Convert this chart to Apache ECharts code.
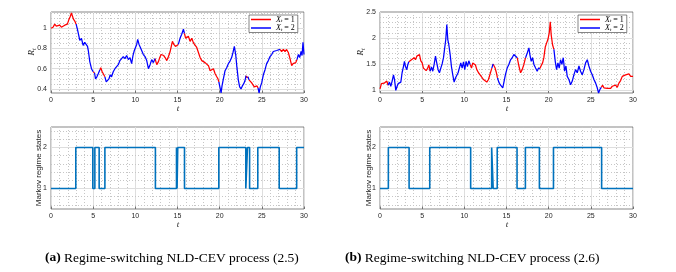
<!DOCTYPE html>
<html><head><meta charset="utf-8">
<script src="https://cdn.jsdelivr.net/npm/echarts@6/dist/echarts.min.js"></script>
<style>html,body{margin:0;padding:0;background:#fff}#c{width:676px;height:272px}</style>
</head><body><div id="c"></div>
<script>
// ---------- data ----------
const tA = [0,0.24,0.44,0.63,0.83,1.03,1.23,1.43,1.63,1.83,1.94,2.1,2.26,2.42,2.54,2.66,2.82,2.98,3.13,3.29,3.41,3.61,3.81,4.0,4.2,4.33,4.44,4.6,4.8,5.0,5.16,5.28,5.44,5.6,5.8,5.9,6.07,6.23,6.39,6.55,6.7,6.87,7.02,7.18,7.38,7.58,7.78,7.98,8.17,8.37,8.57,8.77,8.97,9.17,9.37,9.56,9.72,9.88,10.04,10.16,10.28,10.44,10.6,10.75,10.95,11.15,11.35,11.55,11.75,11.94,12.14,12.34,12.54,12.74,12.9,13.06,13.21,13.37,13.53,13.73,13.93,14.13,14.29,14.4,14.56,14.76,14.9,15.1,15.3,15.5,15.7,15.82,15.97,16.13,16.29,16.49,16.69,16.89,17.08,17.28,17.48,17.68,17.88,18.08,18.27,18.47,18.67,18.87,19.06,19.26,19.46,19.66,19.8,19.9,20.05,20.17,20.28,20.44,20.64,20.83,21.03,21.23,21.42,21.58,21.74,21.9,22.05,22.21,22.37,22.53,22.69,22.84,23.0,23.12,23.24,23.36,23.48,23.64,23.8,23.95,24.11,24.27,24.43,24.55,24.67,24.82,24.98,25.18,25.38,25.57,25.77,25.97,26.17,26.36,26.56,26.76,26.96,27.15,27.35,27.55,27.75,27.94,28.14,28.34,28.54,28.7,28.86,29.02,29.17,29.33,29.49,29.65,29.77,29.88,30.0];
const vA = [1.0,1.01,1.04,1.02,1.01,1.03,1.01,1.0,1.03,1.02,1.04,1.08,1.11,1.15,1.12,1.09,1.07,1.04,0.99,0.93,0.88,0.9,0.83,0.86,0.85,0.82,0.77,0.67,0.6,0.57,0.56,0.5,0.52,0.55,0.59,0.61,0.57,0.56,0.52,0.47,0.46,0.5,0.54,0.52,0.57,0.6,0.61,0.64,0.68,0.7,0.72,0.7,0.73,0.69,0.71,0.65,0.73,0.78,0.77,0.84,0.89,0.84,0.81,0.78,0.74,0.72,0.68,0.6,0.64,0.69,0.66,0.7,0.64,0.67,0.71,0.74,0.75,0.73,0.71,0.68,0.72,0.77,0.83,0.87,0.84,0.82,0.83,0.84,0.9,0.94,0.99,0.95,0.9,0.89,0.92,0.87,0.9,0.855,0.84,0.81,0.76,0.71,0.68,0.675,0.66,0.67,0.63,0.58,0.58,0.6,0.55,0.52,0.5,0.47,0.41,0.36,0.43,0.5,0.58,0.61,0.65,0.675,0.71,0.76,0.82,0.74,0.61,0.49,0.42,0.4,0.43,0.45,0.48,0.53,0.51,0.52,0.49,0.48,0.46,0.44,0.42,0.41,0.43,0.41,0.36,0.42,0.46,0.54,0.59,0.65,0.68,0.72,0.74,0.77,0.76,0.78,0.77,0.79,0.77,0.79,0.77,0.79,0.76,0.7,0.63,0.65,0.64,0.66,0.69,0.74,0.71,0.77,0.73,0.86,0.74];

const tB = [0,0.17,0.33,0.49,0.65,0.81,0.96,1.12,1.28,1.44,1.6,1.72,1.87,1.99,2.15,2.31,2.47,2.62,2.78,2.9,3.02,3.18,3.3,3.42,3.57,3.73,3.89,4.05,4.21,4.37,4.53,4.68,4.84,5.0,5.15,5.31,5.47,5.63,5.79,5.94,6.1,6.26,6.42,6.58,6.73,6.89,7.05,7.21,7.37,7.53,7.68,7.8,7.92,8.04,8.16,8.32,8.47,8.63,8.79,8.95,9.1,9.26,9.42,9.58,9.74,9.9,10.05,10.21,10.37,10.53,10.69,10.85,11.0,11.16,11.32,11.48,11.68,11.87,12.07,12.27,12.47,12.66,12.86,13.06,13.26,13.41,13.53,13.65,13.77,13.93,14.09,14.25,14.4,14.56,14.72,14.88,15.08,15.28,15.48,15.68,15.87,16.07,16.27,16.47,16.67,16.86,17.06,17.26,17.46,17.66,17.77,17.93,18.09,18.25,18.45,18.64,18.8,18.96,19.12,19.28,19.43,19.59,19.75,19.91,20.07,20.19,20.3,20.46,20.62,20.78,20.94,21.1,21.25,21.41,21.57,21.73,21.89,22.05,22.2,22.4,22.6,22.8,22.99,23.19,23.39,23.59,23.78,23.98,24.18,24.38,24.58,24.77,24.97,25.17,25.37,25.57,25.76,25.92,26.08,26.24,26.4,26.55,26.75,26.95,27.15,27.35,27.54,27.74,27.94,28.14,28.33,28.53,28.73,28.93,29.12,29.32,29.52,29.72,29.91,30.0];
const vB = [1.02,1.12,1.1,1.13,1.12,1.17,1.09,1.15,1.07,1.17,1.29,1.2,0.99,1.05,1.12,1.09,1.15,1.33,1.45,1.55,1.45,1.39,1.49,1.54,1.52,1.58,1.55,1.62,1.58,1.65,1.62,1.68,1.56,1.52,1.42,1.45,1.37,1.41,1.48,1.36,1.44,1.36,1.49,1.65,1.52,1.39,1.33,1.42,1.5,1.62,1.82,1.97,2.26,1.97,1.87,1.68,1.45,1.29,1.15,1.23,1.26,1.33,1.36,1.52,1.42,1.54,1.39,1.55,1.45,1.56,1.49,1.42,1.52,1.54,1.48,1.39,1.33,1.29,1.26,1.2,1.17,1.15,1.2,1.23,1.42,1.5,1.48,1.42,1.35,1.23,1.15,1.1,1.13,1.04,1.17,1.3,1.42,1.49,1.58,1.62,1.68,1.71,1.62,1.46,1.33,1.39,1.49,1.62,1.71,1.81,1.68,1.55,1.62,1.49,1.42,1.36,1.42,1.41,1.47,1.52,1.62,1.82,1.9,1.97,2.1,2.31,2.06,1.87,1.78,1.55,1.39,1.52,1.42,1.58,1.49,1.62,1.36,1.46,1.26,1.2,1.1,1.17,1.29,1.39,1.33,1.46,1.36,1.29,1.39,1.52,1.58,1.46,1.36,1.29,1.2,1.13,1.04,0.94,1.01,1.05,1.09,1.04,1.07,1.03,1.05,1.03,1.07,1.04,1.09,1.05,1.13,1.18,1.26,1.23,1.29,1.26,1.31,1.26,1.29,1.26];

const regimeTimesA  = [0,2.94,4.96,5.2,5.71,6.39,12.38,14.88,14.95,15.03,15.83,19.9,23.1,23.3,23.55,24.52,27.06,29.13,30];
const regimeStatesA = [1,2,1,2,1,2,1,2,1,2,1,2,1,2,1,2,1,2,2];
const regimeTimesB  = [0,0.99,3.45,5.9,10.75,13.24,13.42,13.9,16.25,17.24,18.9,20.57,26.28,30];
const regimeStatesB = [1,2,1,2,1,2,1,2,1,2,1,2,1,1];

const xTicks = [0,5,10,15,20,25,30];
const yTicksA = [0.4,0.6,0.8,1];
const yTicksB = [1,1.5,2,2.5];
const yTicksRegime = [1,2];
const legendStates = ['1','2'];
const captionA = 'Regime-switching NLD-CEV process (2.5)';
const captionB = 'Regime-switching NLD-CEV process (2.6)';

// ---------- helpers ----------
const RED='#ff0000', BLUE='#0000ff';
const GRID_MAJOR = '#dedede', GRID_MINOR = '#c6c6c6', AX = '#262626';
function stateAt(times, states, t){
  for (let i=times.length-2;i>=0;i--) if (t>=times[i]) return states[i];
  return states[0];
}
function splitByRegime(ts, vs, times, states){
  const red=[], blue=[]; let lastR=-2, lastB=-2;
  for (let i=0;i<ts.length-1;i++){
    const s = stateAt(times, states, (ts[i]+ts[i+1])/2);
    const arr = s===1?red:blue, last = s===1?lastR:lastB;
    if (last!==i){ if(arr.length) arr.push([ts[i],'-']); arr.push([ts[i],vs[i]]); }
    arr.push([ts[i+1],vs[i+1]]);
    if (s===1) lastR=i+1; else lastB=i+1;
  }
  return [red, blue];
}
function hLines(min,max,majors,step){
  const out=[];
  majors.forEach(v=>{ if(v>min+1e-9&&v<max-1e-9) out.push({yAxis:v,lineStyle:{color:GRID_MAJOR,width:1,type:'solid'}}); });
  for(let k=Math.ceil(min/step-1e-9);k*step<=max+1e-9;k++){
    const v=+(k*step).toFixed(4);
    if(v<=min+1e-9||v>=max-1e-9) continue;
    if(majors.some(m=>Math.abs(m-v)<1e-6)) continue;
    out.push({yAxis:v,lineStyle:{color:GRID_MINOR,width:1,type:[1,2]}});
  }
  return out;
}
function isTick(v,ticks){ return ticks.some(m=>Math.abs(m-v)<1e-6); }
const FONT='Liberation Sans';
function xAxis(gi){
  return {type:'value',gridIndex:gi,min:xTicks[0],max:xTicks[xTicks.length-1],interval:xTicks[1]-xTicks[0],
    axisLine:{show:false},axisTick:{show:true,inside:true,length:2.5,lineStyle:{color:AX,width:0.6}},
    axisLabel:{fontSize:7,color:AX,fontFamily:FONT,margin:4},
    splitLine:{show:true,lineStyle:{color:GRID_MAJOR,width:1}},
    minorTick:{show:false,splitNumber:5},
    minorSplitLine:{show:true,lineStyle:{color:GRID_MINOR,width:1,type:[1,2]}}};
}
function yAxis(gi,min,max,interval,ticks){
  return {type:'value',gridIndex:gi,min:min,max:max,interval:interval,
    axisLine:{show:false},axisTick:{show:false},splitLine:{show:false},
    axisLabel:{fontSize:7,color:AX,fontFamily:FONT,margin:4,
      formatter:v=>isTick(v,ticks)?String(+v.toFixed(2)):''}};
}
const [redA, blueA] = splitByRegime(tA, vA, regimeTimesA, regimeStatesA);
const [redB, blueB] = splitByRegime(tB, vB, regimeTimesB, regimeStatesB);
const stepA = regimeTimesA.map((t,i)=>[t,regimeStatesA[i]]);
const stepB = regimeTimesB.map((t,i)=>[t,regimeStatesB[i]]);

function pathSeries(name,data,color,gi,ml){
  const s={name:name,type:'line',xAxisIndex:gi,yAxisIndex:gi,data:data,symbol:'none',showSymbol:false,
    lineStyle:{color:color,width:1.25},itemStyle:{color:color},connectNulls:false,z:3,animation:false};
  if(ml) s.markLine={silent:true,symbol:['none','none'],label:{show:false},z:1,animation:false,data:ml};
  return s;
}
function stepSeries(data,gi,ml){
  return {type:'line',step:'end',xAxisIndex:gi,yAxisIndex:gi,data:data,symbol:'none',showSymbol:false,
    lineStyle:{color:'#0072BD',width:1.6},z:3,animation:false,
    markLine:{silent:true,symbol:['none','none'],label:{show:false},z:1,animation:false,data:ml}};
}

const legendRich = {
  x:{fontFamily:'Liberation Serif',fontStyle:'italic',fontSize:8,lineHeight:8,color:'#000'},
  s:{fontFamily:'Liberation Serif',fontStyle:'italic',fontSize:5,lineHeight:4,verticalAlign:'bottom',color:'#000'},
  e:{fontFamily:'Liberation Serif',fontSize:8,lineHeight:8,color:'#000'}
};
function legend(left){
  return {left:left,top:15,orient:'vertical',
    data:[{name:'X1',icon:'rect',itemStyle:{color:RED}},{name:'X2',icon:'rect',itemStyle:{color:BLUE}}],
    itemWidth:20,itemHeight:1.5,itemGap:0.5,
    padding:[0.5,3,0.5,2],borderColor:'#333',borderWidth:0.6,backgroundColor:'#fff',
    formatter:n=>'{x|X}{s|t}{e| = '+legendStates[n==='X1'?0:1]+'}',
    textStyle:{rich:legendRich,lineHeight:8},selectedMode:false};
}
function rLabel(x,y){
  return {type:'text',x:x,y:y,rotation:Math.PI/2,style:{text:'{r|R}{s|t}',align:'center',verticalAlign:'middle',
    rich:{r:{fontFamily:'Liberation Serif',fontStyle:'italic',fontSize:9,lineHeight:10,fill:'#262626'},
          s:{fontFamily:'Liberation Serif',fontStyle:'italic',fontSize:6,lineHeight:5,verticalAlign:'bottom',fill:'#262626'}}}};
}
function tLabel(x,y){
  return {type:'text',x:x,y:y,style:{text:'t',align:'center',verticalAlign:'middle',
    font:'italic 9px "Liberation Serif"',fill:'#262626'}};
}
function mLabel(x,y){
  return {type:'text',x:x,y:y,rotation:Math.PI/2,style:{text:'Markov regime states',align:'center',verticalAlign:'middle',
    font:'8px "Liberation Sans"',fill:'#262626'}};
}
function caption(x,tag,txt){
  return {type:'text',x:x,y:258,style:{text:'{b|('+tag+')} {n|'+txt+'}',align:'left',verticalAlign:'middle',
    rich:{b:{fontFamily:'Liberation Serif',fontWeight:'bold',fontSize:13.5,fill:'#000'},
          n:{fontFamily:'Liberation Serif',fontSize:13.5,fill:'#000'}}}};
}

const gridBase={show:true,borderColor:'#555',borderWidth:0.7,backgroundColor:'rgba(0,0,0,0)',containLabel:false};
const option={
  animation:false,
  grid:[
    Object.assign({left:51,top:12,width:253,height:81},gridBase),
    Object.assign({left:51,top:127,width:253,height:82},gridBase),
    Object.assign({left:380,top:12,width:253,height:81},gridBase),
    Object.assign({left:380,top:127,width:253,height:82},gridBase)
  ],
  xAxis:[xAxis(0),xAxis(1),xAxis(2),xAxis(3)],
  yAxis:[
    yAxis(0,0.36,1.16,0.01,yTicksA),
    yAxis(1,0.5,2.5,0.5,yTicksRegime),
    yAxis(2,0.94,2.5,0.02,yTicksB),
    yAxis(3,0.5,2.5,0.5,yTicksRegime)
  ],
  legend:[legend(249),legend(578)],
  series:[
    pathSeries('X1',redA,RED,0,hLines(0.36,1.16,yTicksA,0.05)),
    pathSeries('X2',blueA,BLUE,0),
    stepSeries(stepA,1,hLines(0.5,2.5,yTicksRegime,0.2)),
    pathSeries('X1',redB,RED,2,hLines(0.94,2.5,yTicksB,0.1)),
    pathSeries('X2',blueB,BLUE,2),
    stepSeries(stepB,3,hLines(0.5,2.5,yTicksRegime,0.2))
  ],
  graphic:[rLabel(32,52),rLabel(361,52),tLabel(178,109),tLabel(507,109),tLabel(178,225),tLabel(507,225),
    mLabel(39,168),mLabel(369,168),caption(45,'a',captionA),caption(345,'b',captionB)]
};
const chart=echarts.init(document.getElementById('c'),null,{renderer:'canvas'});
chart.setOption(option);
</script></body></html>
